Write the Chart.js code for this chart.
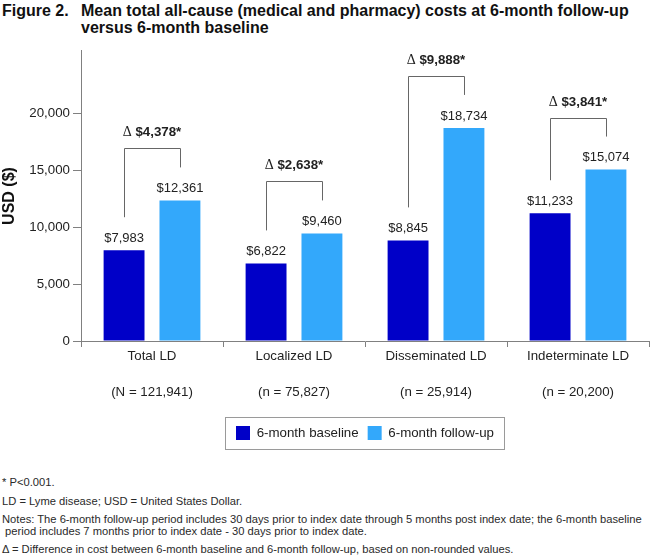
<!DOCTYPE html>
<html><head><meta charset="utf-8">
<script src="https://cdn.jsdelivr.net/npm/chart.js@4.4.1/dist/chart.umd.min.js"></script>
<style>
html,body{margin:0;padding:0;background:#fff;}
body{width:650px;height:557px;position:relative;overflow:hidden;font-family:"Liberation Sans",Arial,sans-serif;color:#1a1a1a;}
.t{position:absolute;font-weight:bold;font-size:16px;line-height:17px;color:#111;white-space:nowrap;}
#wrap{position:absolute;left:0;top:40px;width:650px;height:420px;}
.fn{position:absolute;left:2px;font-size:11.2px;line-height:12px;color:#2a2a2a;white-space:nowrap;}
</style></head><body>
<div class="t" style="left:2px;top:2px">Figure 2.</div>
<div class="t" style="left:81px;top:2px">Mean total all-cause (medical and pharmacy) costs at 6-month follow-up<br>versus 6-month baseline</div>
<div id="wrap"><canvas id="c"></canvas></div>
<div class="fn" style="top:476px">* P&lt;0.001.</div>
<div class="fn" style="top:495px">LD = Lyme disease; USD = United States Dollar.</div>
<div class="fn" style="top:513px">Notes: The 6-month follow-up period includes 30 days prior to index date through 5 months post index date; the 6-month baseline</div>
<div class="fn" style="top:525px;left:5px">period includes 7 months prior to index date - 30 days prior to index date.</div>
<div class="fn" style="top:543px">Δ = Difference in cost between 6-month baseline and 6-month follow-up, based on non-rounded values.</div>
<script>
const categories = ['Total LD', 'Localized LD', 'Disseminated LD', 'Indeterminate LD'];
const sampleSizes = ['(N = 121,941)', '(n = 75,827)', '(n = 25,914)', '(n = 20,200)'];
const seriesNames = ['6-month baseline', '6-month follow-up'];
const baseline = [7983, 6822, 8845, 11233];
const followUp = [12361, 9460, 18734, 15074];
const deltas = [4378, 2638, 9888, 3841];
const yTicks = [0, 5000, 10000, 15000, 20000];
const yMin = 0, yMax = 25500;

const FONT = '"Liberation Sans", Arial, sans-serif';
const fmt = v => v.toLocaleString('en-US');

const annot = {
  id: 'annot',
  afterDatasetsDraw(chart) {
    const ctx = chart.ctx;
    const m0 = chart.getDatasetMeta(0).data, m1 = chart.getDatasetMeta(1).data;
    ctx.save();
    ctx.fillStyle = '#222';
    ctx.textAlign = 'center';
    ctx.textBaseline = 'middle';
    ctx.font = '13px ' + FONT;
    [m0, m1].forEach((arr, di) => arr.forEach((b, i) => {
      const v = chart.data.datasets[di].data[i];
      ctx.fillText('$' + fmt(v), b.x, b.y - 12);
    }));
    ctx.strokeStyle = '#666';
    ctx.lineWidth = 1;
    m0.forEach((b0, i) => {
      const b1 = m1[i];
      const xl = Math.round(b0.x) + 0.5, xr = Math.round(b1.x) + 0.5;
      const yt = Math.round(b1.y - 52) + 0.5;
      ctx.beginPath();
      ctx.moveTo(xl, b0.y - 33); ctx.lineTo(xl, yt); ctx.lineTo(xr, yt); ctx.lineTo(xr, b1.y - 33);
      ctx.stroke();
      const cx = (b0.x + b1.x) / 2, cy = yt - 16.5;
      const d = '\u0394', rest = ' $' + fmt(deltas[i]) + '*';
      ctx.font = '14px "Liberation Serif", serif';
      const w1 = ctx.measureText(d).width;
      ctx.font = 'bold 13.3px ' + FONT;
      const w2 = ctx.measureText(rest).width;
      const x = cx - (w1 + w2) / 2;
      ctx.textAlign = 'left';
      ctx.font = '14px "Liberation Serif", serif';
      ctx.fillText(d, x, cy);
      ctx.font = 'bold 13.3px ' + FONT;
      ctx.fillText(rest, x + w1, cy);
      ctx.textAlign = 'center';
    });
    ctx.restore();
  },
  afterDraw(chart) {
    const hb = chart.legend.legendHitBoxes;
    if (!hb || !hb.length) return;
    const ctx = chart.ctx;
    const last = hb[hb.length - 1];
    const l = Math.round(hb[0].left - 11) + 0.5;
    const r = Math.round(last.left + last.width + 10) + 0.5;
    const cy = hb[0].top + hb[0].height / 2;
    const t = Math.round(cy - 16) + 0.5;
    ctx.save();
    ctx.strokeStyle = '#9a9a9a';
    ctx.lineWidth = 1;
    ctx.strokeRect(l, t, r - l, 32);
    ctx.restore();
  }
};

new Chart(document.getElementById('c'), {
  type: 'bar',
  data: {
    labels: categories.map((c, i) => [c, '', sampleSizes[i]]),
    datasets: [
      { label: seriesNames[0], data: baseline, backgroundColor: '#0000c8', borderWidth: 0,
        barPercentage: 0.732, categoryPercentage: 0.787 },
      { label: seriesNames[1], data: followUp, backgroundColor: '#33a8fb', borderWidth: 0,
        barPercentage: 0.732, categoryPercentage: 0.787 }
    ]
  },
  options: {
    responsive: true,
    maintainAspectRatio: false,
    animation: false,
    devicePixelRatio: 1,
    layout: { padding: { top: 5, right: 1, bottom: 10, left: 0 } },
    plugins: {
      tooltip: { enabled: false },
      legend: {
        position: 'bottom',
        fullSize: false,
        labels: { boxWidth: 14, boxHeight: 14, padding: 9, color: '#222', font: { size: 13.3, family: FONT } }
      }
    },
    scales: {
      x: {
        grid: { drawOnChartArea: false, drawTicks: true, tickLength: 6, color: '#808080', offset: true },
        border: { color: '#808080' },
        ticks: { color: '#222', padding: 0, maxRotation: 0, autoSkip: false,
                 font: { size: 13.3, family: FONT, lineHeight: '18.3px' } },
        afterFit: s => { s.height = 76; }
      },
      y: {
        min: yMin, max: yMax,
        afterBuildTicks: s => { s.ticks = yTicks.map(v => ({ value: v })); },
        grid: { drawOnChartArea: false, tickLength: 8, color: '#808080' },
        border: { color: '#808080' },
        ticks: { padding: 3, color: '#222',
                 font: { size: 13.3, family: FONT }, callback: v => fmt(v) },
        title: { display: true, text: 'USD ($)', color: '#111', padding: 0,
                 font: { size: 16, weight: 'bold', family: FONT } },
        afterFit: s => { s.width = 81; }
      }
    }
  },
  plugins: [annot]
});
</script>
</body></html>
